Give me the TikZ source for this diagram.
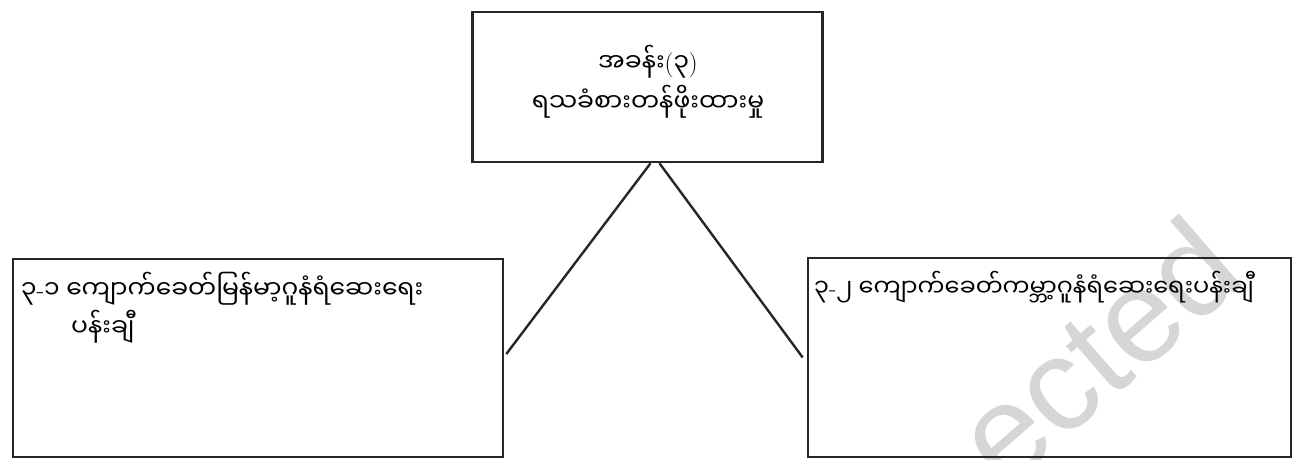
\documentclass[tikz,border=0pt]{standalone}
\usepackage{fontspec}
\newfontfamily\mya[Script=Myanmar]{Noto Sans Myanmar UI}
\newfontfamily\wmfont{Liberation Sans}
\newcommand\mylp{{\rmfamily(}}
\newcommand\myrp{{\rmfamily)}}
\newcommand\myhy{{\rmfamily-}}
\begin{document}
\begin{tikzpicture}[x=1pt,y=-1pt,
  box/.style={draw=black!85,line width=2.6pt,fill=none,inner sep=0pt},
  txt/.style={font=\mya\fontsize{25}{38}\selectfont,inner sep=0pt},
  link/.style={draw=black!85,line width=2.4pt}]
\useasboundingbox (0,0) rectangle (1294,459);
\clip (0,0) rectangle (1294,459);
% watermark
\node[font=\wmfont\fontsize{132}{132}\selectfont,text=black!16,rotate=41,anchor=base west,inner sep=0pt] (wm) at (1005,492) {ected};
% boxes
\node[box,minimum width=350pt,minimum height=150pt] (top) at (647.5,87) {};
\node[box,minimum width=490pt,minimum height=198pt] (left) at (258,358) {};
\node[box,minimum width=483pt,minimum height=199pt] (right) at (1049.5,357.5) {};
% texts
\node[txt,align=center,font=\mya\fontsize{25}{40}\selectfont] (toptxt) at (648,82) {အခန်း\mylp၃\myrp\\ရသခံစားတန်ဖိုးထားမှု};
\node[txt,anchor=north west,align=left] (lefttxt) at (21,272) {၃\myhy၁ ကျောက်ခေတ်မြန်မာ့ဂူနံရံဆေးရေး\\\hspace*{50pt}ပန်းချီ};
\node[txt,anchor=north west,font=\mya\fontsize{24}{36}\selectfont] (righttxt) at (814,271) {၃\myhy၂ ကျောက်ခေတ်ကမ္ဘာ့ဂူနံရံဆေးရေးပန်းချီ};
% connectors
\coordinate (la) at ([xshift=3pt]top.south);
\coordinate (ra) at ([xshift=12pt]top.south);
\coordinate (le) at ([xshift=2pt,yshift=4pt]left.east);
\coordinate (re) at ([xshift=-4pt]right.west);
\draw[link] (la) -- (le);
\draw[link] (ra) -- (re);
\end{tikzpicture}
\end{document}
